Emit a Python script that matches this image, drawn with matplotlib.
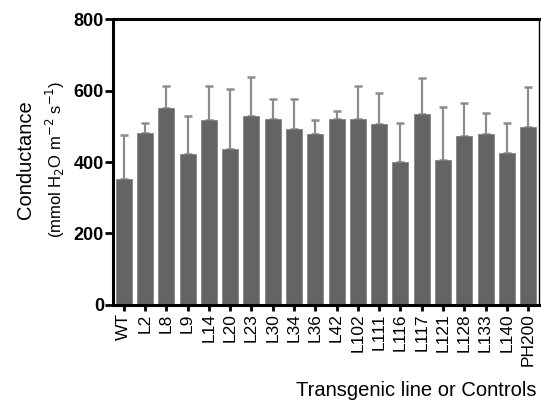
import numpy as np
import matplotlib.pyplot as plt

plt.rcParams['font.family'] = ['Liberation Sans', 'DejaVu Sans']

# stomatal conductance per line (mean and upper SD)
lines = ['WT', 'L2', 'L8', 'L9', 'L14', 'L20', 'L23', 'L30', 'L34', 'L36',
         'L42', 'L102', 'L111', 'L116', 'L117', 'L121', 'L128', 'L133',
         'L140', 'PH200']
means = [352, 480, 550, 422, 518, 436, 530, 520, 492, 478,
         520, 520, 507, 401, 533, 406, 472, 477, 424, 499]
sd = [123, 29, 63, 106, 96, 168, 107, 56, 84, 39,
      23, 92, 85, 109, 102, 148, 93, 61, 86, 111]

fig = plt.figure(figsize=(5.41, 4.05), dpi=100)
ax = fig.add_axes([0.209, 0.247, 0.787, 0.706])

x = np.arange(len(lines))
ax.bar(x, means, width=0.75, color='#646464', edgecolor='#7a7a7a',
       linewidth=0.5, zorder=2)
ax.errorbar(x, means, yerr=[np.zeros(len(sd)), sd], fmt='none',
            ecolor='#8c8c8c', elinewidth=1.6, capsize=2.6, capthick=1.8,
            zorder=1)

ax.set_xlim(-0.5, len(lines) - 0.5)
ax.set_ylim(0, 800)
ax.set_yticks([0, 200, 400, 600, 800])
ax.set_xticks(x)
ax.set_xticklabels(lines, rotation=90, fontsize=12.5)
for lbl in ax.get_yticklabels():
    lbl.set_fontweight('bold')
    lbl.set_fontsize(13)

for side in ['left', 'bottom', 'top']:
    ax.spines[side].set_linewidth(2.2)
ax.spines['right'].set_linewidth(1.0)
ax.tick_params(axis='y', length=6, width=2, pad=0.5)
ax.tick_params(axis='x', length=4, width=2, pad=2)

fig.text(0.048, 0.605, 'Conductance', rotation=90, ha='center', va='center',
         fontsize=14.5)
fig.text(0.102, 0.607, r'(mmol H$_2$O m$^{-2}$ s$^{-1}$)', rotation=90,
         ha='center', va='center', fontsize=12)
fig.text(0.992, 0.037, 'Transgenic line or Controls', ha='right',
         va='center', fontsize=14.5)

fig.savefig('out.png', dpi=100)
